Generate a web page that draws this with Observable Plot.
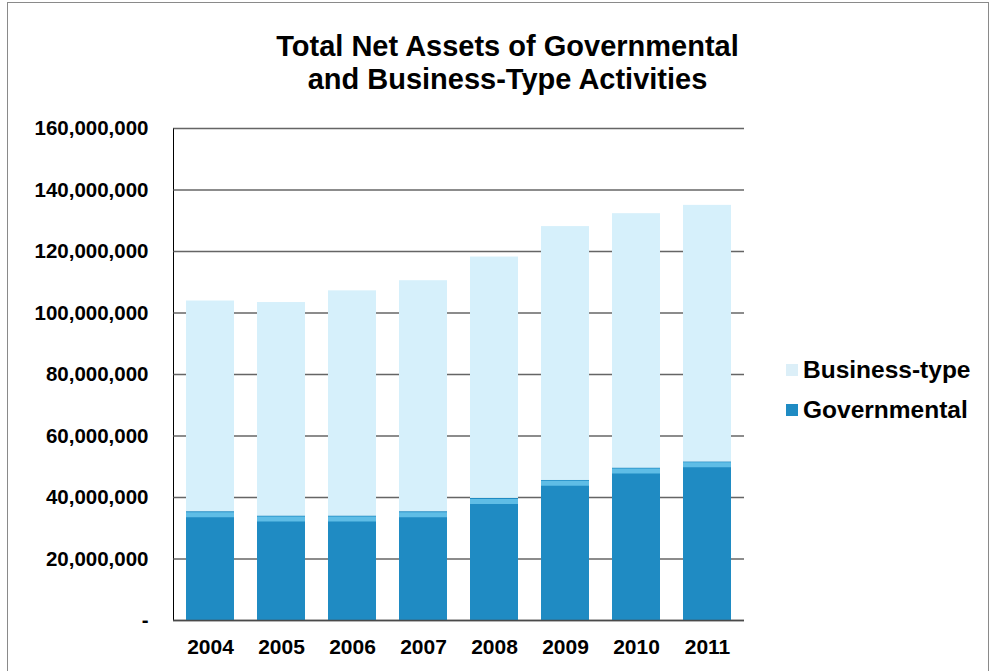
<!DOCTYPE html>
<html>
<head>
<meta charset="utf-8">
<script src="https://cdn.jsdelivr.net/npm/d3@7"></script>
<script src="https://cdn.jsdelivr.net/npm/@observablehq/plot@0.6"></script>
<style>
  html, body { margin: 0; padding: 0; background: #fff; }
  #page { position: relative; width: 995px; height: 671px; overflow: hidden; font-family: "Liberation Sans", Arial, sans-serif; }
  #frame { position: absolute; left: 7px; top: 2px; width: 982px; height: 680px; border: 1px solid #8a8a8a; box-sizing: border-box; }
  #title { position: absolute; left: 10px; width: 995px; top: 30px; text-align: center; font-weight: bold; font-size: 29px; line-height: 33px; color: #000; }
  #chart { position: absolute; left: 0; top: 100px; }
  #legend { position: absolute; left: 786px; top: 350px; font-weight: bold; font-size: 24.5px; color: #000; }
  #legend div { display: flex; align-items: center; height: 40px; }
  #legend span.sw { display: inline-block; width: 12px; height: 12px; margin-right: 5px; }
</style>
</head>
<body>
<div id="page">
  <div id="frame"></div>
  <div id="title">Total Net Assets of Governmental<br>and Business-Type Activities</div>
  <div id="chart"></div>
  <div id="legend"></div>
</div>
<script>
const years = ["2004", "2005", "2006", "2007", "2008", "2009", "2010", "2011"];
const governmental = [35400000, 34000000, 34000000, 35400000, 39700000, 45600000, 49600000, 51600000];
const businessType = [68500000, 69400000, 73200000, 75100000, 78500000, 82500000, 82700000, 83400000];
const seriesNames = ["Governmental", "Business-type"];
const seriesColors = ["#1f8bc3", "#d6f0fb"];
const yTicks = [0, 20000000, 40000000, 60000000, 80000000, 100000000, 120000000, 140000000, 160000000];

const rows = [];
years.forEach((yr, i) => rows.push({year: yr, series: "Governmental", value: governmental[i]}));
years.forEach((yr, i) => rows.push({year: yr, series: "Business-type", value: businessType[i]}));
const govRows = years.map((yr, i) => ({year: yr, value: governmental[i]}));
const fmt = d3.format(",");

const chart = Plot.plot({
  width: 770,
  height: 565,
  marginLeft: 173,
  marginRight: 26,
  marginTop: 28,
  marginBottom: 45,
  style: {fontFamily: "'Liberation Sans', Arial, sans-serif", fontWeight: "bold", color: "#000", background: "transparent"},
  x: {domain: years, paddingInner: 0.32, paddingOuter: 0.15, label: null, tickSize: 0, tickPadding: 19},
  y: {domain: [0, 160000000], ticks: yTicks, label: null, tickSize: 0, tickPadding: 25, line: true,
      tickFormat: d => d === 0 ? "-" : fmt(d)},
  color: {domain: seriesNames, range: seriesColors},
  marks: [
    Plot.ruleY(yTicks, {stroke: "#4a4a4a", strokeWidth: 1.3, strokeOpacity: 0.85}),
    Plot.barY(rows, Plot.stackY({x: "year", y: "value", fill: "series", order: seriesNames})),
    Plot.tickY(govRows, {x: "year", y: "value", stroke: "#5fbde6", strokeWidth: 5, dy: 3}),
    Plot.ruleY([0], {stroke: "#4a4a4a", strokeWidth: 1.3})
  ]
});
chart.style.fontSize = "20.5px";
chart.querySelectorAll("text").forEach(t => t.setAttribute("font-weight", "bold"));
chart.querySelectorAll("g[aria-label='x-axis tick label']").forEach(g => g.setAttribute("font-size", "21px"));
document.getElementById("chart").appendChild(chart);

const legend = document.getElementById("legend");
[["Business-type", "#dceff8"], ["Governmental", "#1f8bc3"]].forEach(([name, col]) => {
  const d = document.createElement("div");
  d.innerHTML = `<span class="sw" style="background:${col}"></span>${name}`;
  legend.appendChild(d);
});
</script>
</body>
</html>
